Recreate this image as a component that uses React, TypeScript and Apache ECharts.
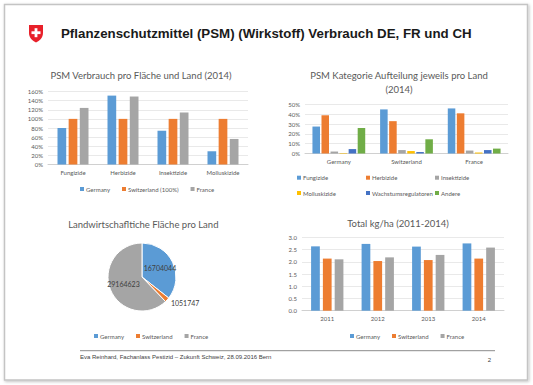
import React, { useEffect, useRef } from "react";
import * as echarts from "echarts";

const C_BLUE = "#5B9BD5";
const C_ORANGE = "#ED7D31";
const C_GREY = "#A5A5A5";
const C_YELLOW = "#FFC000";
const C_DBLUE = "#4472C4";
const C_GREEN = "#70AD47";

// Chart 1: PSM Verbrauch pro Fläche und Land (2014)
const c1Categories = ["Fungizide", "Herbizide", "Insektizide", "Molluskizide"];
const c1Germany = [80, 151, 74, 29];
const c1Switzerland = [100, 100, 100, 100];
const c1France = [124, 149, 114, 56];

// Chart 2: PSM Kategorie Aufteilung jeweils pro Land (2014)
const c2Countries = ["Germany", "Switzerland", "France"];
const c2Fungizide = [27.5, 45, 46];
const c2Herbizide = [39, 33, 41];
const c2Insektizide = [2, 3.5, 3];
const c2Molluskizide = [0.5, 2.5, 1];
const c2Wachstum = [4.5, 1.5, 3.5];
const c2Andere = [26, 14.5, 5];

// Chart 3: Landwirtschaftliche Fläche pro Land
const c3Names = ["Germany", "Switzerland", "France"];
const c3Values = [16704044, 1051747, 29164623];

// Chart 4: Total kg/ha (2011-2014)
const c4Years = ["2011", "2012", "2013", "2014"];
const c4Germany = [2.63, 2.73, 2.62, 2.75];
const c4Switzerland = [2.13, 2.03, 2.07, 2.13];
const c4France = [2.1, 2.18, 2.28, 2.58];

const FONT = "Lato";
const LABEL = "#595959";
const GRID = "#e3e3e3";

echarts.graphic.registerShape(
  "shield",
  echarts.graphic.extendPath(
    "M0,0 L14,0 L14,8 C14,13 10.5,15.5 7,17.5 C3.5,15.5 0,13 0,8 Z",
    {}
  )
);

function catAxis(gridIndex: number, data: string[]) {
  return {
    type: "category",
    gridIndex,
    data,
    axisLine: { lineStyle: { color: "#d0d0d0" } },
    axisTick: { show: false },
    axisLabel: { color: LABEL, fontSize: 6, fontFamily: FONT, margin: 5 },
  };
}

function valAxis(gridIndex: number, max: number, interval: number, fmt: (v: number) => string) {
  return {
    type: "value",
    gridIndex,
    min: 0,
    max,
    interval,
    axisLine: { show: false },
    axisTick: { show: false },
    splitLine: { lineStyle: { color: GRID, width: 0.8 } },
    axisLabel: { color: LABEL, fontSize: 6, fontFamily: FONT, margin: 5, formatter: fmt },
  };
}

function bar(name: string, data: number[], color: string, xi: number, gap: string, catGap: string) {
  return {
    type: "bar",
    name,
    data,
    xAxisIndex: xi,
    yAxisIndex: xi,
    itemStyle: { color },
    barGap: gap,
    barCategoryGap: catGap,
  };
}

function legend(data: string[], left: number, top: number, orient = "horizontal", itemGap = 10) {
  return {
    data,
    left,
    top,
    orient,
    itemGap,
    icon: "rect",
    itemWidth: 4,
    itemHeight: 4,
    padding: 0,
    selectedMode: false,
    textStyle: { color: LABEL, fontSize: 6, fontFamily: FONT, padding: [0, 0, 0, -3] },
  };
}

function title(text: string, x: number, y: number) {
  return {
    type: "text",
    x,
    y,
    style: {
      text,
      fill: LABEL,
      font: `9.5px ${FONT}`,
      align: "center",
      verticalAlign: "middle",
    },
  };
}

export default function App() {
  const ref = useRef<HTMLDivElement>(null);
  useEffect(() => {
    if (!ref.current) return;
    const chart = echarts.init(ref.current, null, { renderer: "svg" });
    const pieData = c3Names.map((n, i) => ({
      name: n,
      value: c3Values[i],
      itemStyle: { color: [C_BLUE, C_ORANGE, C_GREY][i] },
      label:
        i === 1
          ? { position: "outside", distanceToLabelLine: 0 }
          : { position: "inside" },
      labelLine: { show: false, length: 5, length2: 0 },
    }));
    chart.setOption({
      animation: false,
      backgroundColor: "#ffffff",
      grid: [
        { left: 48, right: 285, top: 91.5, bottom: 220.5 },
        { left: 305, right: 25, top: 104.5, bottom: 231.5 },
        { left: 302, right: 29, top: 237.3, bottom: 74.3 },
      ],
      xAxis: [catAxis(0, c1Categories), catAxis(1, c2Countries), catAxis(2, c4Years)],
      yAxis: [
        valAxis(0, 160, 20, (v) => v + "%"),
        valAxis(1, 50, 10, (v) => v + "%"),
        valAxis(2, 3, 0.5, (v) => v.toFixed(1)),
      ],
      legend: [
        legend(["Germany", "Switzerland (100%)", "France"], 80, 186, "horizontal", 12),
        legend(["Fungizide", "Molluskizide"], 297, 174.7, "vertical", 9.3),
        legend(["Herbizide", "Wachstumsregulatoren"], 366, 174.7, "vertical", 9.3),
        legend(["Insektizide", "Andere"], 435, 174.7, "vertical", 9.3),
        legend(["Germany", "Switzerland", "France"], 94, 333, "horizontal", 12),
        legend(["Germany", "Switzerland", "France"], 350, 333, "horizontal", 12),
      ],
      series: [
        bar("Germany", c1Germany, C_BLUE, 0, "28%", "38%"),
        bar("Switzerland (100%)", c1Switzerland, C_ORANGE, 0, "28%", "38%"),
        bar("France", c1France, C_GREY, 0, "28%", "38%"),
        bar("Fungizide", c2Fungizide, C_BLUE, 1, "20%", "22%"),
        bar("Herbizide", c2Herbizide, C_ORANGE, 1, "20%", "22%"),
        bar("Insektizide", c2Insektizide, C_GREY, 1, "20%", "22%"),
        bar("Molluskizide", c2Molluskizide, C_YELLOW, 1, "20%", "22%"),
        bar("Wachstumsregulatoren", c2Wachstum, C_DBLUE, 1, "20%", "22%"),
        bar("Andere", c2Andere, C_GREEN, 1, "20%", "22%"),
        bar("Germany", c4Germany, C_BLUE, 2, "35%", "36%"),
        bar("Switzerland", c4Switzerland, C_ORANGE, 2, "35%", "36%"),
        bar("France", c4France, C_GREY, 2, "35%", "36%"),
        {
          type: "pie",
          name: "Fläche",
          center: [142, 277],
          radius: 34,
          startAngle: 90,
          clockwise: true,
          data: pieData,
          itemStyle: { borderColor: "#ffffff", borderWidth: 1 },
          label: { formatter: "{c}", color: "#404040", fontSize: 7, fontFamily: FONT },
          emphasis: { disabled: true },
        },
      ],
      graphic: [
        {
          type: "rect",
          shape: { x: 4.5, y: 4.5, width: 523, height: 375.5 },
          style: {
            fill: "#ffffff",
            stroke: "#c4c4c4",
            lineWidth: 1.5,
            shadowBlur: 3,
            shadowColor: "rgba(0,0,0,0.25)",
            shadowOffsetX: 1,
            shadowOffsetY: 1,
          },
          z: -10,
          silent: true,
        },
        {
          type: "shield",
          x: 29,
          y: 25,
          style: { fill: "#E8202A" },
        },
        {
          type: "rect",
          shape: { x: 31.5, y: 31.3, width: 9, height: 2.8 },
          style: { fill: "#ffffff" },
          z: 10,
        },
        {
          type: "rect",
          shape: { x: 34.6, y: 28.2, width: 2.8, height: 9 },
          style: { fill: "#ffffff" },
          z: 10,
        },
        {
          type: "text",
          x: 61,
          y: 33.5,
          style: {
            text: "Pflanzenschutzmittel (PSM) (Wirkstoff) Verbrauch DE, FR und CH",
            fill: "#1a1a1a",
            font: "bold 13.3px 'Liberation Sans', Arial, sans-serif",
            verticalAlign: "middle",
          },
        },
        title("PSM Verbrauch pro Fläche und Land (2014)", 141, 75.7),
        title("PSM Kategorie Aufteilung jeweils pro Land", 399, 75.7),
        title("(2014)", 399, 89),
        title("Landwirtschafltiche Fläche pro Land", 143.3, 224),
        title("Total kg/ha (2011-2014)", 398, 223),
        {
          type: "line",
          shape: { x1: 80, y1: 350.7, x2: 495, y2: 350.7 },
          style: { stroke: "#8c8c8c", lineWidth: 1 },
        },
        {
          type: "text",
          x: 80,
          y: 356.5,
          style: {
            text: "Eva Reinhard, Fachanlass Pestizid – Zukunft Schweiz, 28.09.2016 Bern",
            fill: "#404040",
            font: "6px 'Liberation Sans', Arial, sans-serif",
            verticalAlign: "middle",
          },
        },
        {
          type: "text",
          x: 489.5,
          y: 359.5,
          style: {
            text: "2",
            fill: "#404040",
            font: "6px 'Liberation Sans', Arial, sans-serif",
            align: "center",
            verticalAlign: "middle",
          },
        },
      ],
    });
    return () => chart.dispose();
  }, []);
  return (
    <div
      ref={ref}
      style={{ position: "fixed", left: 0, top: 0, width: 533, height: 385 }}
    />
  );
}
